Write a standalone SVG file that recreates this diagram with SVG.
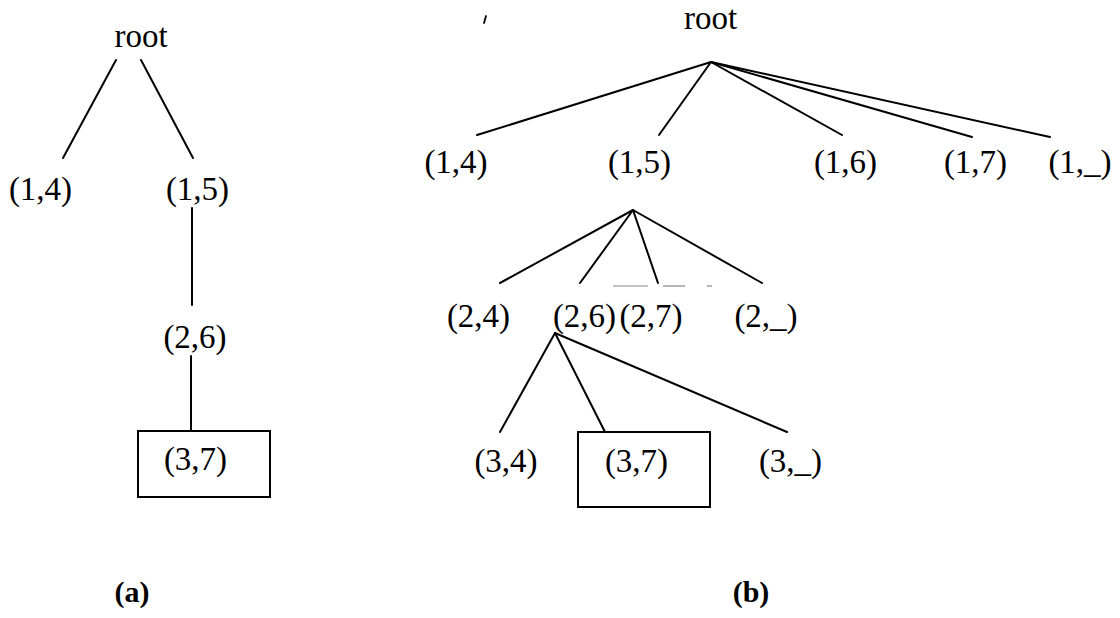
<svg xmlns="http://www.w3.org/2000/svg" width="1120" height="618" viewBox="0 0 1120 618">
  <style>
    .lbl { font-family: "Liberation Serif", "Times New Roman", serif; font-size: 33px; fill: #000; text-anchor: middle; }
    .cap { font-family: "Liberation Serif", "Times New Roman", serif; font-size: 30px; font-weight: bold; fill: #000; text-anchor: middle; }
    .edge { stroke: #000; stroke-width: 2; fill: none; stroke-linecap: round; }
    .box { stroke: #000; stroke-width: 2; fill: none; }
    .faint { stroke: #888; stroke-width: 1.2; fill: none; }
  </style>
  <rect width="1120" height="618" fill="#fff"/>

  <!-- connectors -->
  <g id="connectors">
    <!-- tree (a) -->
    <line class="edge" x1="116" y1="60" x2="63" y2="158"/>
    <line class="edge" x1="141" y1="60" x2="193" y2="158"/>
    <line class="edge" x1="192" y1="208" x2="192" y2="305"/>
    <line class="edge" x1="191" y1="356" x2="191" y2="431"/>
    <!-- tree (b), level 1 -->
    <line class="edge" x1="711" y1="62" x2="477" y2="135"/>
    <line class="edge" x1="711" y1="62" x2="659" y2="135"/>
    <line class="edge" x1="711" y1="62" x2="842" y2="135"/>
    <line class="edge" x1="711" y1="62" x2="972" y2="137"/>
    <line class="edge" x1="711" y1="62" x2="1050" y2="137"/>
    <!-- tree (b), level 2 -->
    <line class="edge" x1="633" y1="210" x2="500" y2="283"/>
    <line class="edge" x1="633" y1="210" x2="580" y2="283"/>
    <line class="edge" x1="633" y1="210" x2="658" y2="283"/>
    <line class="edge" x1="633" y1="210" x2="762" y2="283"/>
    <!-- tree (b), level 3 -->
    <line class="edge" x1="555" y1="333" x2="500" y2="432"/>
    <line class="edge" x1="555" y1="333" x2="605" y2="432"/>
    <line class="edge" x1="555" y1="333" x2="787" y2="432"/>
  </g>

  <!-- tree (a) nodes -->
  <g id="a-root"><text class="lbl" x="141" y="47">root</text></g>
  <g id="a-1-4"><text class="lbl" x="40.5" y="200">(1,4)</text></g>
  <g id="a-1-5"><text class="lbl" x="197.5" y="200">(1,5)</text></g>
  <g id="a-2-6"><text class="lbl" x="195" y="348">(2,6)</text></g>
  <g id="a-3-7">
    <rect class="box" x="138" y="431" width="132" height="66"/>
    <text class="lbl" x="195.5" y="470">(3,7)</text>
  </g>

  <!-- tree (b) nodes -->
  <g id="b-root"><text class="lbl" x="710.5" y="29">root</text></g>
  <g id="b-1-4"><text class="lbl" x="456" y="173">(1,4)</text></g>
  <g id="b-1-5"><text class="lbl" x="639.5" y="173">(1,5)</text></g>
  <g id="b-1-6"><text class="lbl" x="845.5" y="173">(1,6)</text></g>
  <g id="b-1-7"><text class="lbl" x="975.5" y="173">(1,7)</text></g>
  <g id="b-1-x"><text class="lbl" x="1080" y="173">(1,_)</text></g>
  <g id="b-2-4"><text class="lbl" x="478.5" y="327">(2,4)</text></g>
  <g id="b-2-6"><text class="lbl" x="584.5" y="327">(2,6)</text></g>
  <g id="b-2-7"><text class="lbl" x="651" y="327">(2,7)</text></g>
  <g id="b-2-x"><text class="lbl" x="766" y="327">(2,_)</text></g>
  <g id="b-3-4"><text class="lbl" x="506" y="472">(3,4)</text></g>
  <g id="b-3-7">
    <rect class="box" x="578" y="432" width="132" height="75"/>
    <text class="lbl" x="636.5" y="472">(3,7)</text>
  </g>
  <g id="b-3-x"><text class="lbl" x="790.5" y="472">(3,_)</text></g>

  <!-- faint marks -->
  <g id="marks">
    <line class="faint" x1="613" y1="286" x2="648" y2="286"/>
    <line class="faint" x1="663" y1="286" x2="685" y2="286"/>
    <line class="faint" x1="707" y1="286" x2="712" y2="286"/>
    <path d="M486 16 L484 23" stroke="#000" stroke-width="1.8" stroke-linecap="round"/>
  </g>

  <!-- captions -->
  <g id="caption-a"><text class="cap" x="132" y="602">(a)</text></g>
  <g id="caption-b"><text class="cap" x="751" y="602">(b)</text></g>
</svg>
